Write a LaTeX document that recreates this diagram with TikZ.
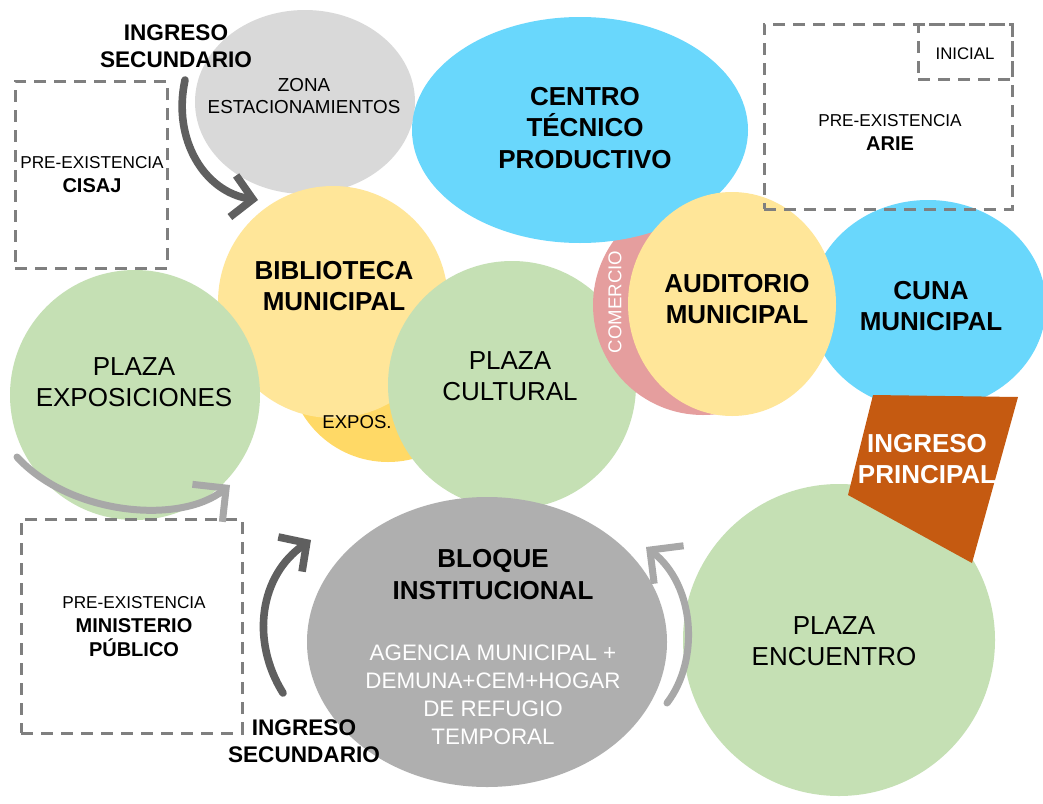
\documentclass[tikz,border=0pt]{standalone}
\usepackage{fontspec}
\setmainfont{Liberation Sans}
\usepackage{xcolor}
\usetikzlibrary{arrows.meta}
\usetikzlibrary{backgrounds,positioning}
\usetikzlibrary{shapes,shapes.geometric}
\pgfdeclarelayer{edgelayer}
\pgfdeclarelayer{nodelayer}
\pgfsetlayers{background,edgelayer,nodelayer,main}
\definecolor{zgray}{RGB}{217,217,217}
\definecolor{zblue}{RGB}{105,215,252}
\definecolor{zyellow}{RGB}{255,230,153}
\definecolor{zgold}{RGB}{255,217,102}
\definecolor{zgreen}{RGB}{197,224,180}
\definecolor{zpink}{RGB}{229,158,158}
\definecolor{zorange}{RGB}{197,90,17}
\definecolor{zdark}{RGB}{175,175,175}
\definecolor{dashgray}{RGB}{127,127,127}
\definecolor{arrowdark}{RGB}{95,95,95}
\definecolor{arrowlight}{RGB}{168,168,168}
\tikzstyle{none}=[inner sep=0mm]
\tikzstyle{zone}=[shape=ellipse,inner sep=0pt,draw=none]
\tikzstyle{gz}=[zone,fill=zgreen]
\tikzstyle{yz}=[zone,fill=zyellow]
\tikzstyle{bz}=[zone,fill=zblue]
\tikzstyle{dbox}=[shape=rectangle,inner sep=0pt,draw=dashgray,line width=1.5pt,dash pattern=on 6pt off 4pt]
\tikzstyle{bold lbl}=[none,align=center,font=\fontsize{13}{15.8}\selectfont\bfseries]
\tikzstyle{plain lbl}=[none,align=center,font=\fontsize{13}{15.8}\selectfont]
\tikzstyle{small lbl}=[none,align=center,font=\fontsize{9.4}{11}\selectfont]
\tikzstyle{box lbl}=[none,align=center,font=\fontsize{10}{12}\selectfont]
\tikzstyle{ing lbl}=[none,align=center,font=\fontsize{11.3}{13.5}\selectfont\bfseries]
\tikzstyle{dk arrow}=[draw=arrowdark,line width=3.8pt,line cap=round,-{Straight Barb[length=10pt,width=21pt]}]
\tikzstyle{lt arrow}=[draw=arrowlight,line width=3.5pt,line cap=round,-{Straight Barb[length=12pt,width=24pt]}]

\begin{document}
\begin{tikzpicture}[x=0.5pt,y=-0.5pt]
	\useasboundingbox (0,0) rectangle (1043,803);
	\begin{pgfonlayer}{background}
		\fill [white] (0,0) rectangle (1043,803);
	\end{pgfonlayer}
	\begin{pgfonlayer}{edgelayer}
		\node [style=zone, fill=zgray, minimum width=110pt, minimum height=92pt] (0) at (305, 102) {};
		\node [style=bz, minimum width=118pt, minimum height=105pt] (1) at (928, 305) {};
		\node [style=zone, fill=zgold, minimum width=100pt, minimum height=100pt] (2) at (388, 362) {};
		\node [style=yz, minimum width=115pt, minimum height=116pt] (3) at (333, 302) {};
		\node [style=gz, minimum width=125pt, minimum height=125pt] (4) at (135, 395) {};
		\node [style=gz, minimum width=124pt, minimum height=124pt] (5) at (512, 385) {};
		\node [style=zone, fill=zpink, minimum width=110pt, minimum height=110pt] (6) at (703, 305) {};
		\node [style=bz, minimum width=168pt, minimum height=113pt] (7) at (580, 130) {};
		\node [style=yz, minimum width=104pt, minimum height=112pt] (8) at (732, 304) {};
		\node [style=zone, fill=zdark, minimum width=180pt, minimum height=145pt] (9) at (487, 642) {};
		\node [style=gz, minimum width=156pt, minimum height=156pt] (10) at (839, 640) {};
		\fill [zorange] (873, 395) -- (1018, 397) -- (972, 563) -- (848, 495) -- cycle;
	\end{pgfonlayer}
	\begin{pgfonlayer}{nodelayer}
		\node [style=dbox, minimum width=76pt, minimum height=93.5pt] (11) at (91, 174.5) {};
		\node [style=dbox, minimum width=124pt, minimum height=92.5pt] (12) at (888, 116.5) {};
		\node [style=dbox, minimum width=47pt, minimum height=27.5pt] (13) at (965, 51.5) {};
		\node [style=dbox, minimum width=110.5pt, minimum height=107pt] (14) at (131.5, 626) {};
		\coordinate (15) at (185, 80);
		\coordinate (16) at (258, 200);
		\coordinate (17) at (17, 457);
		\coordinate (18) at (230, 485);
		\coordinate (19) at (283, 693);
		\coordinate (20) at (311, 540);
		\coordinate (21) at (667, 703);
		\coordinate (22) at (646, 547);
		\node [style=ing lbl] (23) at (176, 46) {INGRESO\\SECUNDARIO};
		\node [style=small lbl] (24) at (304, 96) {ZONA\\ESTACIONAMIENTOS};
		\node [style=box lbl] (25) at (92, 175) {{\fontsize{8.6}{10}\selectfont PRE-EXISTENCIA}\\\textbf{CISAJ}};
		\node [style=bold lbl] (26) at (585, 128) {CENTRO\\TÉCNICO\\PRODUCTIVO};
		\node [style=box lbl] (27) at (890, 132) {{\fontsize{8.6}{10}\selectfont PRE-EXISTENCIA}\\\textbf{ARIE}};
		\node [style=none, font=\fontsize{8.4}{10}\selectfont] (28) at (965, 54) {INICIAL};
		\node [style=bold lbl] (29) at (334, 286) {BIBLIOTECA\\MUNICIPAL};
		\node [style=none, rotate=90, text=white, font=\fontsize{9.3}{11}\selectfont] (30) at (615, 302) {COMERCIO};
		\node [style=bold lbl] (31) at (737, 299) {AUDITORIO\\MUNICIPAL};
		\node [style=bold lbl] (32) at (931, 306) {CUNA\\MUNICIPAL};
		\node [style=plain lbl] (33) at (134, 382) {PLAZA\\EXPOSICIONES};
		\node [style=plain lbl] (34) at (510, 376) {PLAZA\\CULTURAL};
		\node [style=none, font=\fontsize{9.3}{11}\selectfont] (35) at (357, 422) {EXPOS.};
		\node [style=bold lbl, text=white] (36) at (927, 459) {INGRESO\\PRINCIPAL};
		\node [style=bold lbl, font=\fontsize{13}{16}\selectfont\bfseries] (37) at (493, 575) {BLOQUE\\INSTITUCIONAL};
		\node [style=none, align=center, text=white, font=\fontsize{11.2}{14}\selectfont] (38) at (493, 695) {AGENCIA MUNICIPAL +\\DEMUNA+CEM+HOGAR\\DE REFUGIO\\TEMPORAL};
		\node [style=plain lbl] (39) at (834, 641) {PLAZA\\ENCUENTRO};
		\node [style=box lbl] (40) at (134, 627) {{\fontsize{8.6}{10}\selectfont PRE-EXISTENCIA}\\\textbf{MINISTERIO}\\\textbf{PÚBLICO}};
		\node [style=ing lbl] (41) at (304, 741) {INGRESO\\SECUNDARIO};
		\draw [style=dk arrow] (15) .. controls (172, 140) and (205, 192) .. (16);
		\draw [style=lt arrow] (17) .. controls (70, 515) and (180, 525) .. (18);
		\draw [style=dk arrow] (19) .. controls (250, 640) and (260, 575) .. (20);
		\draw [style=lt arrow] (21) .. controls (700, 660) and (695, 585) .. (22);
	\end{pgfonlayer}
\end{tikzpicture}
\end{document}
